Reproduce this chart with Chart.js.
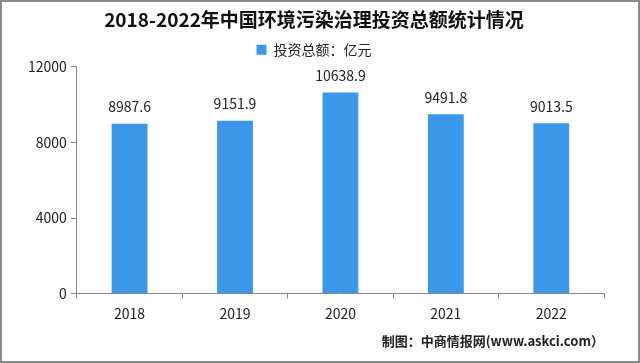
<!DOCTYPE html>
<html lang="zh">
<head>
    <meta charset="UTF-8">
    <title>2018-2022年中国环境污染治理投资总额统计情况</title>
    <script src="https://cdn.jsdelivr.net/npm/chart.js"></script>
    <style>
        body { margin: 0; background: #fff; }
        #wrap { width: 640px; height: 363px; box-sizing: border-box; border: 2px solid #8a8a8a; }
    </style>
</head>
<body>
    <div id="wrap"><canvas id="investChart" width="636" height="359"></canvas></div>
    <script>
        // data
        const years = ['2018', '2019', '2020', '2021', '2022'];
        const investment = [8987.6, 9151.9, 10638.9, 9491.8, 9013.5];
        const yTicks = [0, 4000, 8000, 12000];

        const font = '"Noto Sans CJK SC", "DejaVu Sans", sans-serif';

        // value labels above each bar
        const barLabels = {
            id: 'barLabels',
            afterDatasetsDraw(chart) {
                const ctx = chart.ctx;
                const meta = chart.getDatasetMeta(0);
                ctx.save();
                ctx.font = '14px ' + font;
                ctx.fillStyle = '#222';
                ctx.textAlign = 'center';
                ctx.textBaseline = 'bottom';
                meta.data.forEach((bar, i) => {
                    ctx.fillText(investment[i].toFixed(1), bar.x, bar.y - 10);
                });
                ctx.restore();
            }
        };

        new Chart(document.getElementById('investChart'), {
            type: 'bar',
            data: {
                labels: years,
                datasets: [{
                    label: '投资总额：亿元',
                    data: investment,
                    backgroundColor: '#3a97ea',
                    barPercentage: 0.34,
                    categoryPercentage: 1
                }]
            },
            options: {
                responsive: false,
                animation: false,
                layout: { padding: { left: 22, right: 34, top: 0, bottom: 0 } },
                plugins: {
                    title: {
                        display: true,
                        text: '2018-2022年中国环境污染治理投资总额统计情况',
                        color: '#111',
                        font: { family: font, size: 19, weight: 'bold' },
                        padding: { top: 6, bottom: 2 }
                    },
                    legend: {
                        labels: {
                            color: '#222',
                            font: { family: font, size: 14 },
                            boxWidth: 10,
                            boxHeight: 10
                        }
                    },
                    subtitle: {
                        display: true,
                        position: 'bottom',
                        align: 'end',
                        text: '制图：中商情报网(www.askci.com）',
                        color: '#222',
                        font: { family: font, size: 13, weight: 'bold' },
                        padding: { top: 4, bottom: 12 }
                    },
                    tooltip: { enabled: false }
                },
                scales: {
                    x: {
                        grid: { drawOnChartArea: false, tickLength: 5, color: '#888' },
                        border: { color: '#888' },
                        ticks: { color: '#222', font: { family: font, size: 14 }, padding: 7 }
                    },
                    y: {
                        min: 0,
                        max: 12000,
                        afterBuildTicks(axis) {
                            axis.ticks = yTicks.map(v => ({ value: v }));
                        },
                        grid: { drawOnChartArea: false, tickLength: 6, color: '#888' },
                        border: { color: '#888' },
                        ticks: {
                            color: '#222',
                            font: { family: font, size: 14 },
                            padding: 4,
                            callback: v => String(v)
                        }
                    }
                }
            },
            plugins: [barLabels]
        });
    </script>
</body>
</html>
